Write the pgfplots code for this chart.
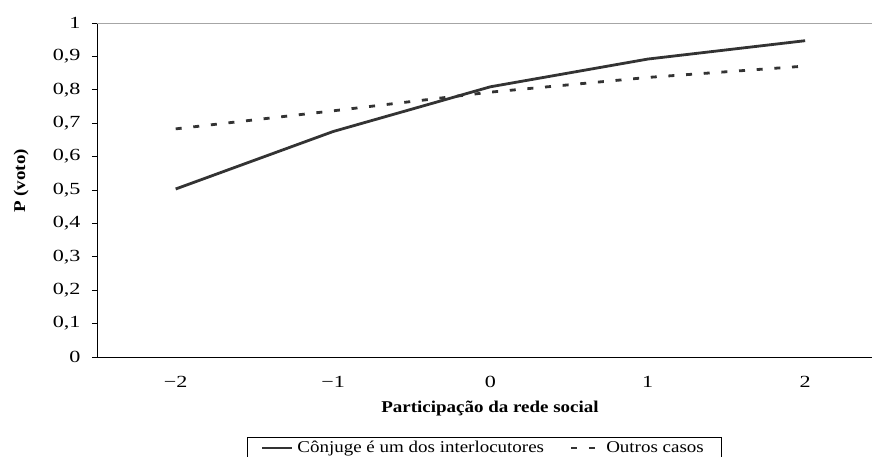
\documentclass[border=0pt]{standalone}
\usepackage{pgfplots}
\pgfplotsset{compat=1.18}
\usepackage{fontspec}
\setmainfont{Liberation Serif}[FakeStretch=1.15]
\newfontfamily\tickfont{Liberation Serif}[FakeStretch=1.3]
\definecolor{ln}{HTML}{333333}
\begin{document}
\begin{tikzpicture}
\begin{axis}[
  scale only axis, width=775pt, height=334pt,
  xmin=-2.5, xmax=2.425, ymin=0, ymax=1,
  axis x line*=bottom, axis y line*=left,
  axis line style={-, black, line width=0.8pt},
  tick align=outside,
  major tick length=5pt,
  tick style={black, line width=0.6pt},
  xtick={-2,-1,0,1,2},
  xticklabels={−2,−1,0,1,2},
  major x tick style={draw=none},
  extra x ticks={-2.5,-1.5,-0.5,0.5,1.5},
  extra x tick labels={},
  extra x tick style={major tick length=5pt, tick style={draw=black}},
  ytick={0,0.1,...,1.0},
  yticklabels={0,{0,1},{0,2},{0,3},{0,4},{0,5},{0,6},{0,7},{0,8},{0,9},1},
  ticklabel style={font=\tickfont\fontsize{17}{19}\selectfont},
  xticklabel style={yshift=-11pt},
  yticklabel style={xshift=-8pt},
  ylabel={\textbf{P (voto)}},
  ylabel style={font=\fontsize{16.5}{18}\selectfont, at={(axis description cs:-0.098,0.527)}, anchor=center},
  xlabel={\textbf{Participação da rede social}},
  xlabel style={font=\fontsize{16.5}{18}\selectfont, at={(axis description cs:0.507,-0.155)}, anchor=center},
  legend columns=2,
  legend style={at={(axis description cs:0.5,-0.24)}, anchor=north,
    draw=black, line width=0.6pt, font=\fontsize{16.5}{18}\selectfont,
    nodes={inner xsep=4pt},
    /tikz/every even column/.append style={column sep=22pt},
    inner xsep=14pt, inner ysep=2pt},
  legend image code/.code={\draw[#1, line width=2.2pt] (0pt,0pt) -- (30pt,0pt);},
  clip=false,
]
\draw[gray!70, line width=0.8pt] (axis cs:-2.5,1) -- (axis cs:2.425,1);
\addplot[ln, line width=2.8pt] coordinates {(-2,0.503) (-1,0.675) (0,0.809) (1,0.892) (2,0.947)};
\addlegendentry{Cônjuge é um dos interlocutores}
\addplot[ln, line width=2.8pt, dash pattern=on 6pt off 11.7pt] coordinates {(-2,0.683) (-1,0.737) (0,0.793) (1,0.837) (2,0.871)};
\addlegendentry{Outros casos}
\end{axis}
\pgfresetboundingbox
\path[use as bounding box] (-97pt,-100pt) rectangle (775pt,357pt);
\end{tikzpicture}
\end{document}
